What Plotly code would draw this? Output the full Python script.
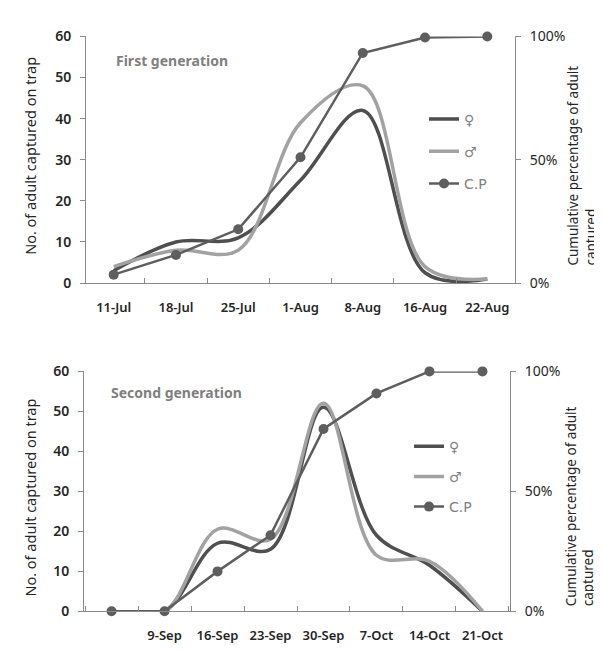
#!/usr/bin/env python3
"""
Seasonal trap captures of adults (first and second generation),
female / male counts with cumulative percentage on a second axis.
"""

# Import libraries
from plotly import graph_objects as go

# Data: first generation
DATES_1 = ["11-Jul", "18-Jul", "25-Jul", "1-Aug", "8-Aug", "16-Aug", "22-Aug"]
FEMALE_1 = [3, 10, 11, 25, 42, 2.5, 1]
MALE_1 = [4, 8, 8, 39, 48, 4, 1]
CP_1 = [0.034, 0.114, 0.218, 0.51, 0.933, 0.996, 1.0]

# Data: second generation (first category has no label)
DATES_2 = [" ", "9-Sep", "16-Sep", "23-Sep", "30-Sep", "7-Oct", "14-Oct", "21-Oct"]
FEMALE_2 = [0, 0, 17, 15.5, 51, 19, 11.5, 0]
MALE_2 = [0, 0, 20.5, 18, 52, 14, 12.5, 0]
CP_2 = [0, 0, 0.166, 0.317, 0.76, 0.908, 1.0, 1.0]

# Styles
FEMALE_COLOR = "#4f4f4f"
MALE_COLOR = "#a2a2a2"
CP_COLOR = "#5e5e5e"
AXIS_COLOR = "#8a8a8a"
TEXT_COLOR = "#262626"
SOFT_TEXT = "#7f7f7f"
FONT = "Noto Sans"
W, H = 602, 652


def px_x(x):
    """Pixel (from left) to paper x"""
    return x / W


def px_y(y):
    """Pixel (from top) to paper y"""
    return 1 - y / H


def add_generation(fig, dates, female, male, cp, xa, ya, ya2, legend):
    """Add the three traces of one generation"""
    fig.add_trace(
        go.Scatter(
            x=dates, y=female, name="\u2640", mode="lines",
            line=dict(color=FEMALE_COLOR, width=3.5, shape="spline", smoothing=1.0),
            xaxis=xa, yaxis=ya, legend=legend, legendgroup=legend + "f",
        )
    )
    fig.add_trace(
        go.Scatter(
            x=dates, y=male, name="\u2642", mode="lines",
            line=dict(color=MALE_COLOR, width=3.5, shape="spline", smoothing=1.0),
            xaxis=xa, yaxis=ya, legend=legend, legendgroup=legend + "m",
        )
    )
    fig.add_trace(
        go.Scatter(
            x=dates, y=cp, name="C.P", mode="lines+markers",
            line=dict(color=CP_COLOR, width=2.5),
            marker=dict(color=CP_COLOR, size=10),
            cliponaxis=False,
            xaxis=xa, yaxis=ya2, legend=legend, legendgroup=legend + "c",
        )
    )


fig = go.Figure()
add_generation(fig, DATES_1, FEMALE_1, MALE_1, CP_1, "x", "y", "y2", "legend")
add_generation(fig, DATES_2, FEMALE_2, MALE_2, CP_2, "x2", "y3", "y4", "legend2")

tick_font = dict(family=FONT, size=14, color=TEXT_COLOR)
x_common = dict(
    type="category", tickson="boundaries", ticks="inside", ticklen=5,
    tickcolor=AXIS_COLOR, showline=True, linecolor=AXIS_COLOR, linewidth=1,
    showgrid=False, zeroline=False, ticklabelstandoff=12, tickangle=0,
    tickfont=dict(family=FONT, size=13, color=TEXT_COLOR, weight=600),
)
y_left = dict(
    range=[0, 60], dtick=10, ticks="outside", ticklen=5, tickcolor=AXIS_COLOR,
    showline=True, linecolor=AXIS_COLOR, linewidth=1, showgrid=False,
    zeroline=False, tickfont=dict(family=FONT, size=14, color=TEXT_COLOR, weight=600),
    ticklabelstandoff=6,
)
y_right = dict(
    range=[0, 1], tickvals=[0, 0.5, 1], tickformat=".0%", ticks="outside",
    ticklen=5, tickcolor=AXIS_COLOR, showline=True, linecolor=AXIS_COLOR,
    linewidth=1, showgrid=False, zeroline=False, tickfont=tick_font,
    side="right", ticklabelstandoff=6,
)

legend_common = dict(
    xanchor="left", yanchor="top", bgcolor="rgba(0,0,0,0)",
    font=dict(family="DejaVu Sans", size=14, color=SOFT_TEXT),
)

fig.update_layout(
    width=W, height=H,
    margin=dict(l=0, r=0, t=0, b=0),
    paper_bgcolor="white", plot_bgcolor="white",
    font=dict(family=FONT, color=TEXT_COLOR),
    xaxis=dict(domain=[px_x(78), px_x(507)], anchor="y", **x_common),
    yaxis=dict(domain=[px_y(273), px_y(19)], anchor="x", **y_left),
    yaxis2=dict(overlaying="y", anchor="x", **y_right),
    xaxis2=dict(domain=[px_x(76), px_x(502)], anchor="y3", **x_common),
    yaxis3=dict(domain=[px_y(611), px_y(364)], anchor="x2", **y_left),
    yaxis4=dict(overlaying="y3", anchor="x2", **y_right),
    legend=dict(x=px_x(416), y=px_y(88), tracegroupgap=11, **legend_common),
    legend2=dict(x=px_x(401), y=px_y(425), tracegroupgap=9, **legend_common),
    showlegend=True,
)

# Panel titles and axis titles
left_title = "No. of adult captured on trap"
right_title = "Cumulative percentage of adult<br>captured"
title_font = dict(family=FONT, size=14.5, color=TEXT_COLOR)
right_font = dict(family=FONT, size=13.5, color=TEXT_COLOR)
panel_font = dict(family=FONT, size=14, color=SOFT_TEXT, weight=700)
notes = [
    dict(text="First generation", x=px_x(106), y=px_y(44), xanchor="left",
         yanchor="middle", font=panel_font),
    dict(text="Second generation", x=px_x(101), y=px_y(386), xanchor="left",
         yanchor="middle", font=panel_font),
    dict(text=left_title, x=px_x(22), y=px_y(142), textangle=-90, xanchor="center",
         yanchor="middle", font=title_font),
    dict(text=left_title, x=px_x(22), y=px_y(494), textangle=-90, xanchor="center",
         yanchor="middle", font=title_font),
    dict(text=right_title, x=px_x(574), y=px_y(257), textangle=-90, xanchor="center",
         yanchor="bottom", align="left", font=right_font),
    dict(text=right_title, x=px_x(572), y=px_y(608), textangle=-90, xanchor="center",
         yanchor="bottom", align="left", font=right_font),
]
for note in notes:
    fig.add_annotation(xref="paper", yref="paper", showarrow=False, **note)

fig.write_html("out.html")
